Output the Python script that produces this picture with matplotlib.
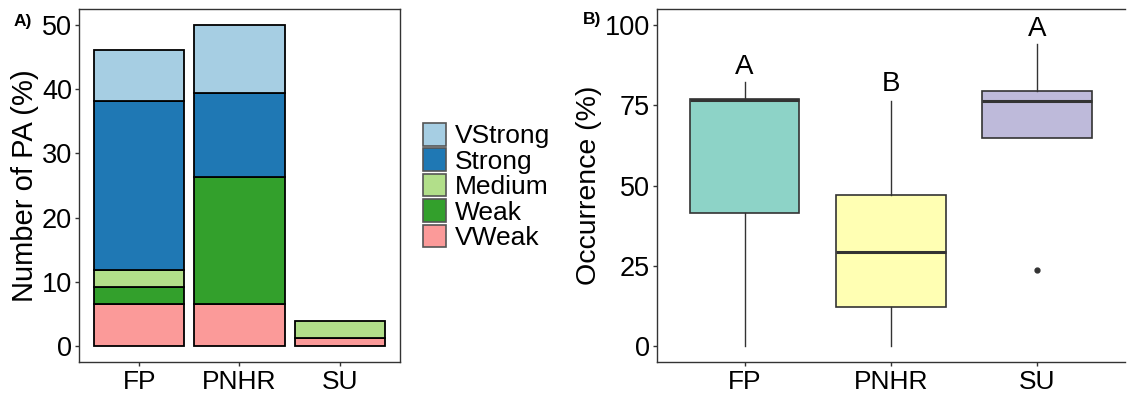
import matplotlib
matplotlib.use("Agg")
import matplotlib.pyplot as plt
from matplotlib.patches import Patch
import numpy as np

plt.rcParams['font.family'] = ['Liberation Sans', 'DejaVu Sans']

# Panel A: stacked bars, % of PA per category
sites = ["FP", "PNHR", "SU"]
levels = ["VWeak", "Weak", "Medium", "Strong", "VStrong"]
vweak = [6.6, 6.6, 1.3]
weak = [2.65, 19.7, 0.0]
medium = [2.6, 0.0, 2.65]
strong = [26.35, 13.2, 0.0]
vstrong = [7.85, 10.5, 0.0]
level_colors = ["#FB9A99", "#33A02C", "#B2DF8A", "#1F78B4", "#A6CEE3"]

# Panel B: boxplot stats of occurrence (%)
box_low = [0.0, 0.0, 64.9]
box_q1 = [41.4, 12.0, 64.9]
box_med = [76.6, 29.4, 76.5]
box_q3 = [76.85, 47.0, 79.4]
box_high = [82.3, 76.3, 94.0]
box_fliers = [[], [], [23.7]]
box_colors = ["#8DD3C7", "#FFFFB3", "#BEBADA"]
group_letters = ["A", "B", "A"]
letter_y = [86.8, 81.5, 98.7]

edge = "#333333"
fig = plt.figure(figsize=(11.27, 3.96), dpi=100)

# ---- Panel A ----
ax1 = fig.add_axes([0.0701, 0.0859, 0.2848, 0.8911])
x = np.arange(1, 4)
bottom = np.zeros(3)
for vals, col in zip([vweak, weak, medium, strong, vstrong], level_colors):
    vals = np.array(vals)
    mask = vals > 0
    ax1.bar(x[mask], vals[mask], bottom=bottom[mask], width=0.9, color=col,
            edgecolor="black", linewidth=1.3)
    bottom += vals
ax1.set_xlim(0.4, 3.6)
ax1.set_ylim(-2.5, 52.5)
ax1.set_xticks(x)
ax1.set_xticklabels(sites)
ax1.set_yticks([0, 10, 20, 30, 40, 50])
ax1.set_ylabel("Number of PA (%)", fontsize=21, labelpad=2)

# legend (top level first)
handles = [Patch(facecolor=c, edgecolor="#555555", linewidth=1.2) for c in level_colors[::-1]]
fig.legend(handles, levels[::-1], loc="upper left", bbox_to_anchor=(0.3753, 0.69),
           frameon=False, fontsize=19, handlelength=0.87, handleheight=0.95,
           labelspacing=0.0, handletextpad=0.35, borderaxespad=0, borderpad=0)

# ---- Panel B ----
ax2 = fig.add_axes([0.5827, 0.0859, 0.4155, 0.8911])
stats = []
for i in range(3):
    stats.append(dict(whislo=box_low[i], q1=box_q1[i], med=box_med[i],
                      q3=box_q3[i], whishi=box_high[i], fliers=box_fliers[i]))
bp = ax2.bxp(stats, positions=x, widths=0.75, patch_artist=True, showcaps=False,
             boxprops=dict(edgecolor=edge, linewidth=1.2),
             medianprops=dict(color=edge, linewidth=2.2),
             whiskerprops=dict(color=edge, linewidth=1.0),
             flierprops=dict(marker="o", markerfacecolor=edge, markeredgecolor=edge,
                             markersize=3.5))
for patch, col in zip(bp["boxes"], box_colors):
    patch.set_facecolor(col)
for xi, lab, ly in zip(x, group_letters, letter_y):
    ax2.text(xi, ly, lab, ha="center", va="center", fontsize=20)
ax2.set_xlim(0.4, 3.6)
ax2.set_ylim(-5, 105)
ax2.set_xticks(x)
ax2.set_xticklabels(sites)
ax2.set_yticks([0, 25, 50, 75, 100])
ax2.set_ylabel("Occurrence (%)", fontsize=20.5, labelpad=2)
ax2.spines["right"].set_visible(False)

for ax in (ax1, ax2):
    for s in ax.spines.values():
        s.set_color(edge)
        s.set_linewidth(1.0)
    ax.tick_params(axis="both", colors=edge, length=3, width=1.0, direction="out")
    ax.tick_params(axis="y", labelsize=19.5, labelcolor="black", pad=2)
    ax.tick_params(axis="x", labelsize=19, labelcolor="black", pad=3)

fig.text(0.012, 0.935, "A)", fontsize=12.5, fontweight="bold")
fig.text(0.517, 0.94, "B)", fontsize=12.5, fontweight="bold")

fig.savefig("out.png", dpi=100)
